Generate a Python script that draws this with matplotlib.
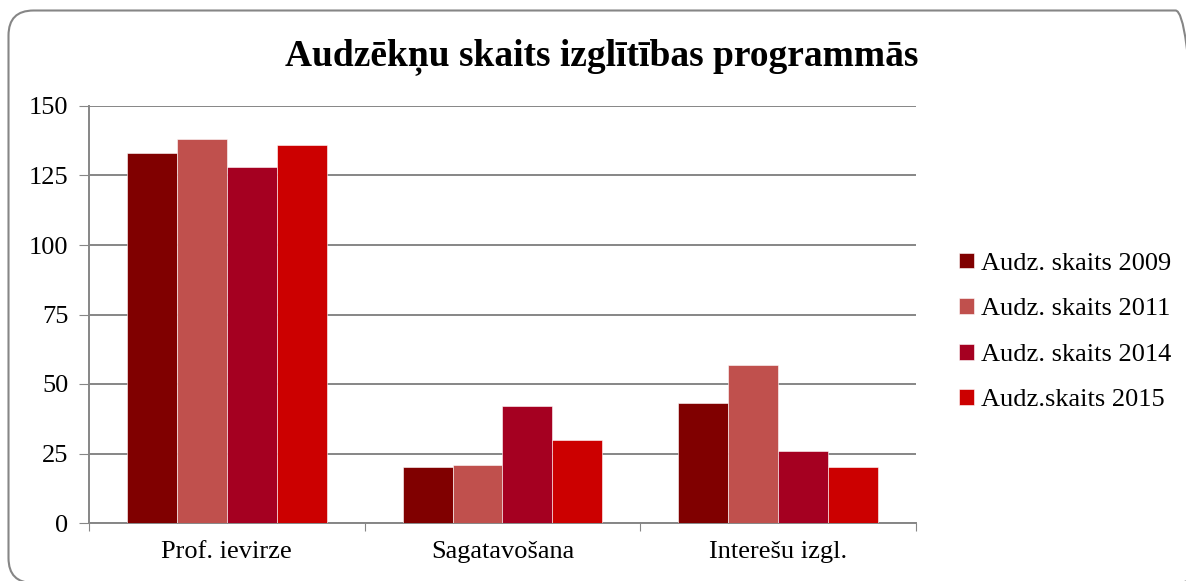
import matplotlib.pyplot as plt
from matplotlib.patches import FancyBboxPatch
from matplotlib.transforms import IdentityTransform
import numpy as np

plt.rcParams['font.family'] = ['Liberation Serif', 'DejaVu Serif']

# --- Data ---
categories = ["Prof. ievirze", "Sagatavošana", "Interešu izgl."]
series_names = ["Audz. skaits 2009", "Audz. skaits 2011", "Audz. skaits 2014", "Audz.skaits 2015"]
vals_2009 = [133, 20, 43]
vals_2011 = [138, 21, 57]
vals_2014 = [128, 42, 26]
vals_2015 = [136, 30, 20]
colors = ["#800000", "#C0504D", "#A50021", "#CC0000"]
y_ticks = [0, 25, 50, 75, 100, 125, 150]

series = [vals_2009, vals_2011, vals_2014, vals_2015]

fig = plt.figure(figsize=(11.86, 5.81), dpi=100)
ax = fig.add_axes([89 / 1186, 58 / 581, 827 / 1186, 417 / 581])

# --- Bars ---
x = np.arange(len(categories))
bar_w = 0.181
for i, (vals, name, col) in enumerate(zip(series, series_names, colors)):
    ax.bar(x + (i - 1.5) * bar_w, vals, width=bar_w, color=col, label=name,
           edgecolor="white", linewidth=0.4, zorder=3)

ax.set_xlim(-0.5, len(categories) - 0.5)
ax.set_ylim(0, 150)
ax.set_yticks(y_ticks)
ax.tick_params(axis="y", length=7, color="#868686", labelsize=19, pad=8)
ax.yaxis.grid(True, color="#868686", linewidth=1.4, zorder=0)

# categories between boundary ticks
ax.set_xticks(np.arange(len(categories) + 1) - 0.5)
ax.set_xticklabels([])
ax.set_xticks(x, minor=True)
ax.set_xticklabels(categories, minor=True, fontsize=19)
ax.tick_params(axis="x", which="major", length=6, color="#868686", direction="out")
ax.tick_params(axis="x", which="minor", length=0, pad=13)

for s in ["top", "right"]:
    ax.spines[s].set_visible(False)
for s in ["left", "bottom"]:
    ax.spines[s].set_color("#868686")
    ax.spines[s].set_linewidth(1.4)

fig.text(602 / 1186, 1 - 57 / 581, "Audzēkņu skaits izglītības programmās",
         ha="center", va="center", fontsize=27, fontweight="bold")

ax.legend(loc="center left", bbox_to_anchor=(959 / 1186, 1 - 332 / 581),
          bbox_transform=fig.transFigure, frameon=False, fontsize=19,
          borderpad=0, borderaxespad=0,
          handlelength=0.55, handleheight=0.55, handletextpad=0.3, labelspacing=0.88)

# --- Rounded border (pixel coords) ---
border = FancyBboxPatch((8.5, -2), 1192, 572.5,
                        boxstyle="round,pad=0,rounding_size=25",
                        transform=IdentityTransform(), fill=False,
                        edgecolor="#868686", linewidth=1.5)
fig.patches.append(border)

fig.savefig("out.png", dpi=100)
